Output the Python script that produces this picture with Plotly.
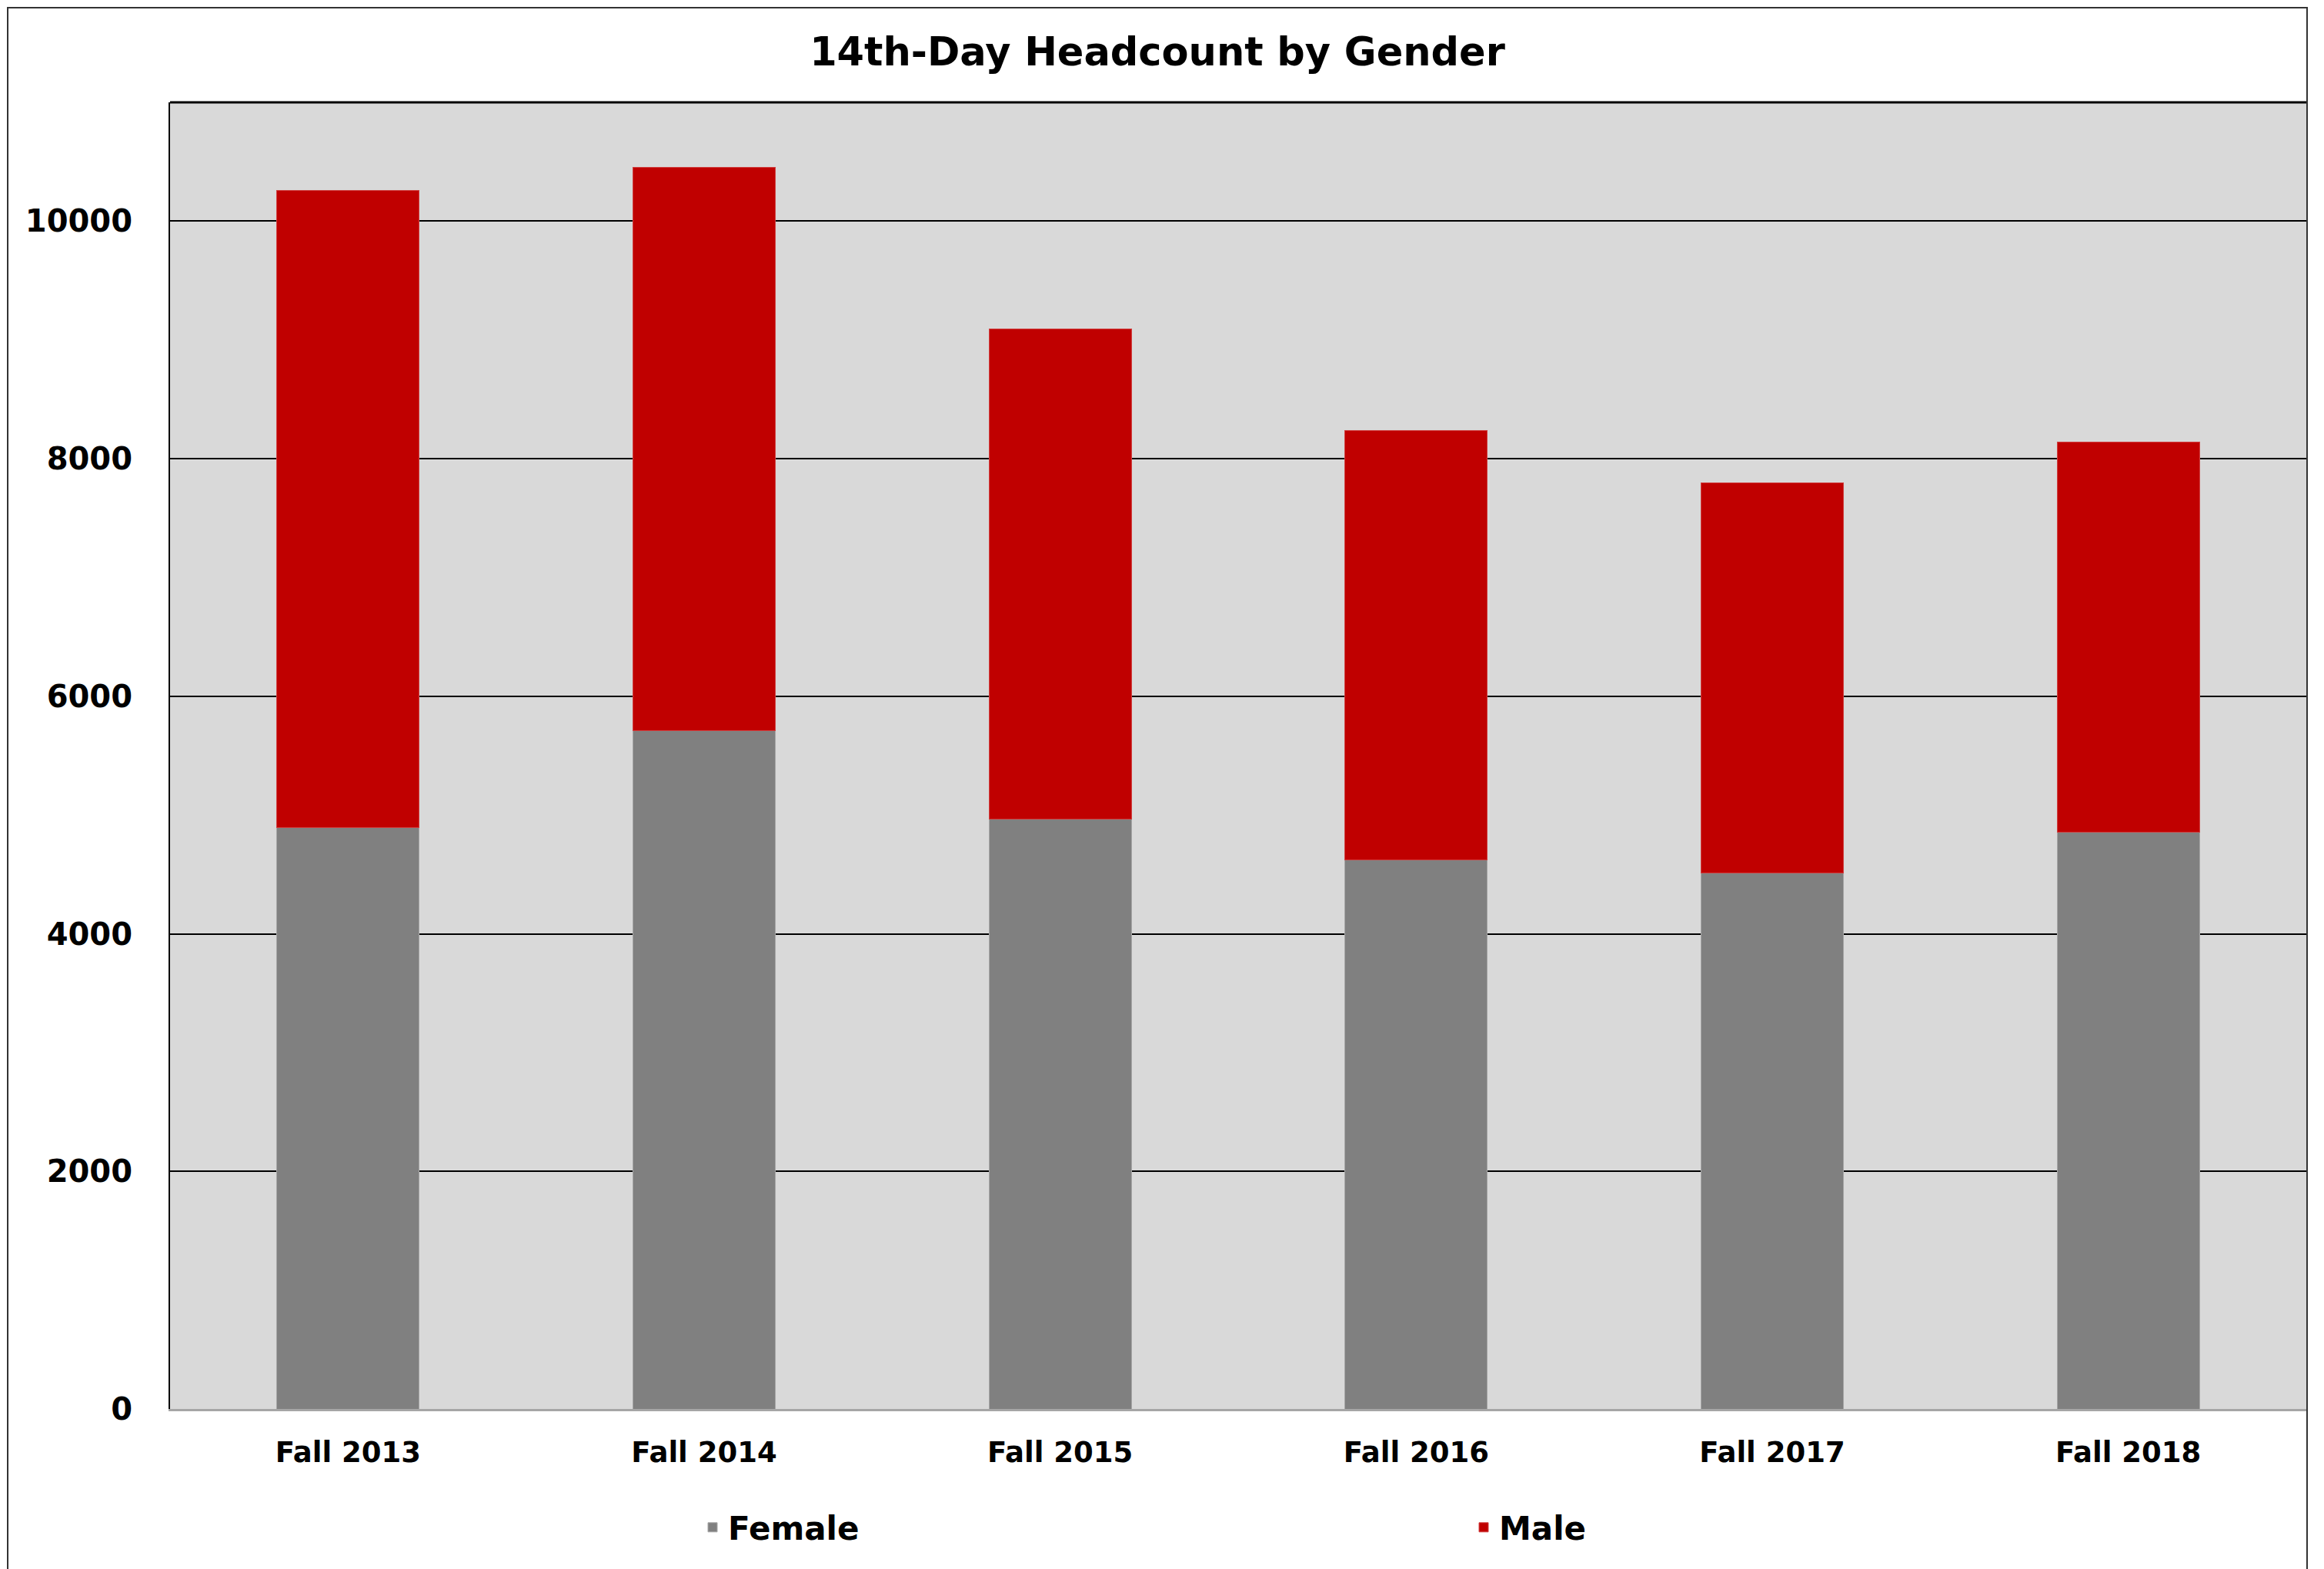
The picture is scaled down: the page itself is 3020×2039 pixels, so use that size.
import plotly.graph_objects as go

categories = ["Fall 2013", "Fall 2014", "Fall 2015", "Fall 2016", "Fall 2017", "Fall 2018"]
female = [4893, 5708, 4965, 4623, 4515, 4858]
male = [5366, 4742, 4129, 3613, 3279, 3283]
y_ticks = [0, 2000, 4000, 6000, 8000, 10000]

FONT = "DejaVu Sans"

fig = go.Figure()
fig.add_trace(go.Bar(
    x=categories, y=female, name="Female",
    marker=dict(color="#808080", line=dict(color="#A6A6A6", width=1)),
))
fig.add_trace(go.Bar(
    x=categories, y=male, name="Male",
    marker=dict(color="#C00000", line=dict(color="#D04040", width=1)),
))

# page has an 8px body margin; figure sized/offset to compensate
OFF = 8
W, H = 3020 - OFF, 2039 - OFF
L, T = 221 - OFF, 133 - OFF
pw = 2776
ph = 1698
R = W - L - pw
B = H - T - ph

fig.update_layout(
    width=W, height=H,
    barmode="stack",
    bargap=0.6,
    paper_bgcolor="white",
    plot_bgcolor="#D9D9D9",
    margin=dict(l=L, r=R, t=T, b=B, pad=0),
    title=dict(
        text="14th-Day Headcount by Gender",
        font=dict(family=FONT, size=51, color="black", weight="bold"),
        x=(1504 - OFF) / W, xanchor="center", xref="container",
        y=1 - (67 - OFF) / H, yanchor="middle", yref="container",
    ),
    xaxis=dict(
        showgrid=False,
        showline=True, linecolor="#A6A6A6", linewidth=3, mirror=False,
        ticks="",
        tickfont=dict(family=FONT, size=37, color="black", weight="bold"),
        ticklabelstandoff=22,
    ),
    yaxis=dict(
        range=[0, 11000],
        tickvals=y_ticks,
        tickformat="d",
        showgrid=True, gridcolor="#000000", gridwidth=2,
        zeroline=False,
        showline=True, linecolor="#000000", linewidth=2, mirror=True,
        ticks="",
        tickfont=dict(family=FONT, size=40, color="black", weight="bold"),
        ticklabelstandoff=39,
    ),
    legend=dict(
        orientation="h",
        x=(906 - 221) / pw, xanchor="left",
        y=(1831 - 1985) / ph, yanchor="middle",
        font=dict(family=FONT, size=42, color="black", weight="bold"),
        entrywidth=957, entrywidthmode="pixels",
        bgcolor="rgba(0,0,0,0)",
        traceorder="normal",
    ),
    showlegend=True,
    shapes=[
        # top border of the plot area
        dict(type="line", xref="paper", yref="paper", x0=0, x1=1, y0=1, y1=1,
             line=dict(color="black", width=3)),
        # outer chart border
        dict(type="rect", xref="paper", yref="paper",
             x0=(10 - 221) / pw, x1=(2998 - 221) / pw,
             y0=(1831 - 2050) / ph, y1=(1831 - 10) / ph,
             line=dict(color="#333333", width=2), fillcolor="rgba(0,0,0,0)",
             layer="above"),
    ],
)

fig.write_html("out.html")
